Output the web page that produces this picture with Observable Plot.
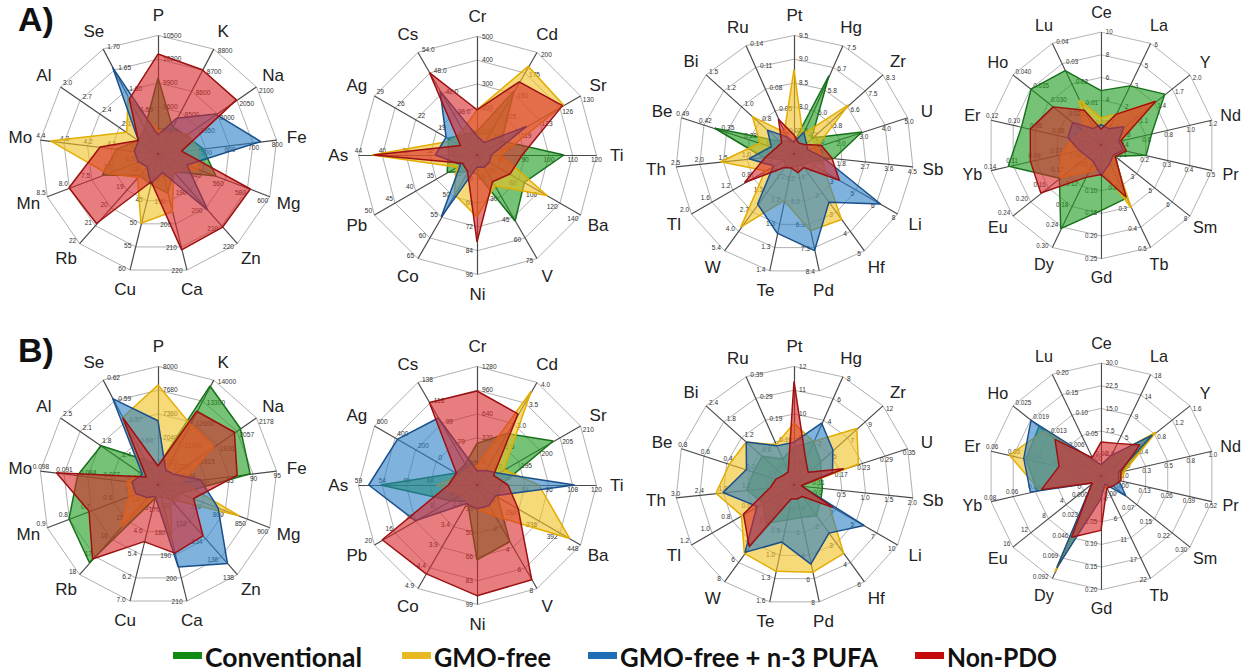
<!DOCTYPE html>
<html><head><meta charset="utf-8">
<script src="https://cdn.jsdelivr.net/npm/d3@7"></script>
<script src="https://cdn.jsdelivr.net/npm/@observablehq/plot@0.6"></script>
<style>
html,body{margin:0;padding:0;background:#fff}
body{width:1258px;height:672px;position:relative;overflow:hidden;font-family:"Liberation Sans",Arial,sans-serif}
.chart{position:absolute}
.chart svg{overflow:visible}
.panel{position:absolute;font:bold 34px "Liberation Sans",Arial,sans-serif;color:#111;line-height:39px}
.sw{position:absolute;top:652px;width:29px;height:7px;box-sizing:border-box}
.lt{position:absolute;top:642px;font:700 26px Lato,"Liberation Sans",sans-serif;color:#111;white-space:nowrap;line-height:30px;transform-origin:0 50%}
</style></head><body>
<div class="panel" style="left:18px;top:0px">A)</div>
<div class="panel" style="left:18px;top:331px">B)</div>
<div id="charts"></div>
<div id="legend"></div>
<script>
// ---- series ----
const seriesNames = ["Conventional", "GMO-free", "GMO-free + n-3 PUFA", "Non-PDO"];
const seriesFill = ["#1a9a1a", "#f0c020", "#2a7fc4", "#d8262a"];
const seriesStroke = ["#16701a", "#e3ad00", "#1a4f8a", "#9c1010"];
const swatchColor = ["#128a12", "#e8b923", "#1f6eb5", "#c40c0c"];

// values are radial levels: 0 = centre, 5 = outer ring
// ---------- A1 ----------
const a1Axes = ["P","K","Na","Fe","Mg","Zn","Ca","Cu","Rb","Mn","Mo","Al","Se"];
const a1Ticks = [["9300","9600","9900","10200","10500"],["8400","8500","8600","8700","8800"],["1900","1950","2000","2050","2100"],["400","500","600","700","800"],["520","540","560","580","600"],["180","190","200","210","220"],["180","190","200","210","220"],["40","45","50","55","60"],["18","19","20","21","22"],["6.5","7.0","7.5","8.0","8.5"],["4.0","4.1","4.2","4.3","4.4"],["1.8","2.1","2.4","2.7","3.0"],["1.50","1.55","1.60","1.65","1.70"]];
const a1Conventional = [3.2,1.3,1.4,1.9,2.6,1.0,1.7,1.3,1.2,2.5,1.75,1.0,1.2];
const a1GmoFree      = [1.0,1.0,1.5,1.7,1.8,1.0,2.5,3.0,1.3,2.3,4.55,1.6,2.7];
const a1Pufa         = [0.8,1.7,2.95,4.35,1.3,3.15,0.8,1.3,0.7,0.9,1.0,1.0,4.1];
const a1NonPdo       = [4.2,4.0,4.0,1.0,4.15,4.1,4.15,1.2,3.9,4.0,2.45,1.0,2.6];

// ---------- A2 ----------
const a2Axes = ["Cr","Cd","Sr","Ti","Ba","V","Ni","Co","Pb","As","Ag","Cs"];
const a2Ticks = [["100","200","300","400","500"],["100","125","150","175","200"],["116","119","123","126","130"],["80","90","100","110","120"],["60","80","100","120","140"],["15","30","45","60","75"],["48","60","72","84","96"],["45","50","55","60","65"],["30","35","40","45","50"],["28","32","36","40","44"],["16","19","22","26","29"],["30.0","36.0","42.0","48.0","54.0"]];
const a2Conventional = [1.0,3.1,1.2,3.65,2.3,3.2,0.8,0.8,1.45,1.2,1.4,1.0];
const a2GmoFree      = [1.9,4.3,4.2,1.0,3.4,1.5,2.6,1.9,1.0,4.4,1.2,1.2];
const a2Pufa         = [0.8,0.6,2.4,0.6,0.6,0.6,0.5,3.0,0.8,1.75,1.5,3.1];
const a2NonPdo       = [1.9,3.55,4.15,1.9,1.6,1.3,3.65,0.8,0.7,4.35,0.8,4.0];

// ---------- A3 ----------
const a3Axes = ["Pt","Hg","Zr","U","Sb","Li","Hf","Pd","Te","W","Tl","Th","Be","Bi","Ru"];
const a3Ticks = [["7.5","8.0","8.5","9.0","9.5"],["4.2","5.0","5.8","6.7","7.5"],["5.0","5.8","6.6","7.5","8.3"],["1.0","2.0","3.0","4.0","5.0"],["0.9","1.8","2.7","3.6","4.5"],["2","3","5","6","8"],["1","2","3","4","5"],["4.2","5.2","6.3","7.3","8.4"],["1.2","1.2","1.3","1.3","1.4"],["0.0","1.3","2.7","4.0","5.4"],["0.4","0.8","1.2","1.6","2.0"],["0.5","1.0","1.5","2.0","2.5"],["0.21","0.28","0.35","0.42","0.49"],["0.5","0.8","1.0","1.2","1.5"],["0.02","0.05","0.08","0.11","0.14"]];
const a3Conventional = [0.5,3.6,1.0,3.0,1.7,0.7,0.6,0.5,0.6,0.6,0.5,1.3,3.5,0.8,0.6];
const a3GmoFree      = [3.55,0.9,3.1,1.0,1.2,1.5,3.4,3.3,2.0,3.8,1.4,3.1,1.5,2.35,1.0];
const a3Pufa         = [0.5,1.0,0.7,0.6,1.2,4.2,2.5,4.15,3.4,2.6,1.0,1.9,1.0,1.5,0.8];
const a3NonPdo       = [0.8,0.5,0.6,1.2,1.6,2.2,0.7,0.8,0.6,0.7,2.4,1.2,0.8,0.7,1.6];

// ---------- A4 ----------
const a4Axes = ["Ce","La","Y","Nd","Pr","Sm","Tb","Gd","Dy","Eu","Yb","Er","Ho","Lu"];
const a4Ticks = [["2","4","6","8","10"],["1","2","3","5","6"],["0.8","1.1","1.4","1.7","2.0"],["0.4","0.6","0.8","1.0","1.2"],["0.1","0.2","0.3","0.4","0.5"],["2","3","5","6","8"],["0.1","0.2","0.3","0.4","0.5"],["0.05","0.10","0.15","0.20","0.25"],["0.06","0.12","0.18","0.24","0.30"],["0.08","0.12","0.16","0.20","0.24"],["0.05","0.07","0.09","0.11","0.14"],["0.04","0.06","0.08","0.10","0.12"],["0.020","0.025","0.030","0.035","0.040"],["0.00","0.01","0.02","0.03","0.04"]];
const a4Conventional = [2.4,2.9,3.6,2.3,2.05,0.8,2.6,2.9,4.1,2.35,4.2,3.6,3.95,3.65];
const a4GmoFree      = [1.2,1.5,3.1,0.8,1.0,0.7,3.1,1.0,1.3,2.3,1.8,1.3,1.0,2.2];
const a4Pufa         = [0.9,0.8,1.3,0.8,1.0,0.7,0.9,1.35,0.8,0.8,1.0,1.5,1.6,0.8];
const a4NonPdo       = [0.7,1.5,3.1,0.9,1.15,0.8,2.55,1.3,1.6,3.4,3.2,3.2,2.7,1.7];

// ---------- B1 ----------
const b1Axes = a1Axes;
const b1Ticks = [["6720","7040","7360","7680","8000"],["11200","11900","12600","13300","14000"],["1694","1815","1936","2057","2178"],["75","80","85","90","95"],["700","750","800","850","900"],["130","132","134","136","138"],["170","180","190","200","210"],["3.8","4.6","5.4","6.2","7.0"],["14","15","16","17","18"],["0.5","0.6","0.7","0.8","0.9"],["0.070","0.077","0.084","0.091","0.098"],["1.1","1.4","1.8","2.1","2.5"],["0.52","0.54","0.57","0.59","0.62"]];
const b1Conventional = [0.8,4.7,4.2,3.9,1.0,0.8,0.5,0.6,4.35,4.0,3.4,2.9,1.2];
const b1GmoFree      = [4.2,2.9,2.85,1.0,3.65,0.8,2.4,0.5,2.35,1.3,1.3,0.8,3.2];
const b1Pufa         = [2.7,0.7,0.8,1.8,2.7,4.4,3.55,0.5,0.7,1.0,1.1,0.8,4.1];
const b1NonPdo       = [0.8,3.5,3.9,3.35,1.6,2.85,2.95,2.45,4.15,3.1,4.3,0.6,3.2];

// ---------- B2 ----------
const b2Axes = a2Axes;
const b2Ticks = [["0","320","640","960","1280"],["2.0","2.5","3.0","3.5","4.0"],["190","195","200","205","210"],["72","84","96","108","120"],["224","280","336","392","448"],["0","2","4","6","8"],["33","50","66","83","99"],["2.9","3.4","3.9","4.4","4.9"],["4","8","12","16","20"],["39","44","49","54","59"],["-200","0","200","400","600"],["59","79","99","118","138"]];
const b2Conventional = [1.75,2.5,3.7,1.0,1.0,2.75,3.15,0.8,1.3,4.05,1.0,1.0];
const b2GmoFree      = [0.8,4.55,1.3,2.6,4.5,1.5,1.0,0.8,0.8,1.7,0.8,0.8];
const b2Pufa         = [0.6,0.7,1.0,4.1,0.9,1.0,1.0,0.9,3.0,4.55,3.85,3.25];
const b2NonPdo       = [3.95,3.45,0.8,1.3,2.0,4.6,4.65,4.3,4.6,1.2,1.0,4.0];

// ---------- B3 ----------
const b3Axes = a3Axes;
const b3Ticks = [["8","9","10","11","12"],["0","2","4","6","8"],["2","5","7","9","12"],["0.11","0.17","0.23","0.29","0.35"],["0.0","0.5","1.0","1.5","2.0"],["0","2","5","7","10"],["0","2","3","4","6"],["0","2","4","6","8"],["0.5","0.8","1.0","1.3","1.6"],["0","2","4","6","8"],["0.4","0.6","0.8","1.0","1.2"],["0.6","1.2","1.8","2.4","3.0"],["0.0","0.2","0.4","0.6","0.8"],["0.0","0.6","1.2","1.8","2.4"],["0.00","0.10","0.19","0.29","0.39"]];
const b3Conventional = [1.6,2.0,1.5,1.2,1.2,1.3,1.6,1.4,1.5,2.0,1.5,2.0,1.8,1.8,1.2];
const b3GmoFree      = [2.6,2.0,3.55,2.85,0.3,1.7,3.55,3.75,3.7,3.55,2.55,3.3,2.85,2.7,1.85];
const b3Pufa         = [1.8,2.85,2.2,1.7,0.3,3.4,2.5,3.4,2.45,3.5,1.8,3.0,2.1,2.7,1.8];
const b3NonPdo       = [4.35,1.2,0.8,2.2,0.3,1.9,0.6,0.6,0.6,3.2,2.45,1.0,0.8,0.6,0.6];

// ---------- B4 ----------
const b4Axes = a4Axes;
const b4Ticks = [["0.0","7.5","15.0","22.5","30.0"],["0","5","9","14","18"],["0.0","0.4","0.8","1.2","1.6"],["0.0","0.3","0.5","0.8","1.0"],["0.00","0.13","0.26","0.39","0.52"],["0.00","0.07","0.15","0.22","0.30"],["0","6","11","17","22"],["0.00","0.05","0.10","0.15","0.20"],["0.000","0.023","0.046","0.069","0.092"],["0","4","8","12","16"],["0.00","0.02","0.04","0.06","0.08"],["0.02","0.03","0.04","0.05","0.06"],["0.000","0.006","0.013","0.019","0.025"],["0.00","0.05","0.10","0.15","0.20"]];
const b4Conventional = [0.4,0.9,3.0,1.0,0.8,0.6,0.5,0.8,4.4,0.4,2.9,3.4,3.5,0.7];
const b4GmoFree      = [0.4,0.9,3.1,1.1,0.9,0.7,0.5,0.8,4.7,0.4,2.8,4.15,3.2,0.8];
const b4Pufa         = [0.5,1.0,2.9,0.8,0.8,1.4,0.4,1.0,4.5,0.5,3.2,3.5,3.95,0.8];
const b4NonPdo       = [1.5,1.6,2.2,0.9,0.9,0.7,0.6,2.4,3.0,0.5,2.7,1.9,2.6,0.9];

// ---- layout ----
const RPX = 119;      // pixel radius of outer ring
const HALF = 165;     // half size of each svg
const LABR = 5.85;    // label radius in ring units
const charts = [
  {cx:158,  cy:154, axes:a1Axes, ticks:a1Ticks, values:[a1Conventional,a1GmoFree,a1Pufa,a1NonPdo]},
  {cx:477,  cy:155, axes:a2Axes, ticks:a2Ticks, values:[a2Conventional,a2GmoFree,a2Pufa,a2NonPdo]},
  {cx:794,  cy:154, axes:a3Axes, ticks:a3Ticks, values:[a3Conventional,a3GmoFree,a3Pufa,a3NonPdo]},
  {cx:1109, cy:153, axes:a4Axes, ticks:a4Ticks, values:[a4Conventional,a4GmoFree,a4Pufa,a4NonPdo]},
  {cx:158,  cy:485, axes:b1Axes, ticks:b1Ticks, values:[b1Conventional,b1GmoFree,b1Pufa,b1NonPdo]},
  {cx:477,  cy:485, axes:b2Axes, ticks:b2Ticks, values:[b2Conventional,b2GmoFree,b2Pufa,b2NonPdo]},
  {cx:794,  cy:485, axes:b3Axes, ticks:b3Ticks, values:[b3Conventional,b3GmoFree,b3Pufa,b3NonPdo]},
  {cx:1109, cy:484, axes:b4Axes, ticks:b4Ticks, values:[b4Conventional,b4GmoFree,b4Pufa,b4NonPdo]}
];

function radar(cfg) {
  const n = cfg.axes.length;
  const u = 5 / RPX;
  const half = HALF * u;
  const th = i => 2 * Math.PI * i / n;
  const X = (i, r) => r * Math.sin(th(i));
  const Y = (i, r) => r * Math.cos(th(i));
  const ringPts = [];
  for (let k = 1; k <= 5; k++) cfg.axes.forEach((a, i) => ringPts.push({k, x: X(i, k), y: Y(i, k)}));
  const spokes = cfg.axes.map((a, i) => ({x: X(i, 5), y: Y(i, 5)}));
  const tickPts = [];
  cfg.axes.forEach((a, i) => cfg.ticks[i].forEach((t, j) => {
    const k = j + 1, t0 = th(i), off = 4.5 * u;
    tickPts.push({text: t, c: Math.cos(t0), x: X(i, k) + off * Math.cos(t0), y: Y(i, k) - off * Math.sin(t0)});
  }));
  const labels = cfg.axes.map((a, i) => ({text: a, x: X(i, LABR), y: Y(i, LABR)}));
  const tickOpts = {x: "x", y: "y", text: "text", fontSize: 6.6, fill: "#333"};
  const marks = [
    Plot.line(ringPts, {x: "x", y: "y", z: "k", curve: "linear-closed", stroke: "#b0b0b0", strokeWidth: 1}),
    Plot.link(spokes, {x1: 0, y1: 0, x2: "x", y2: "y", stroke: "#4a4a4a", strokeWidth: 1.2}),
    Plot.text(tickPts.filter(d => d.c > 0.35), {...tickOpts, textAnchor: "start"}),
    Plot.text(tickPts.filter(d => d.c < -0.35), {...tickOpts, textAnchor: "end"}),
    Plot.text(tickPts.filter(d => Math.abs(d.c) <= 0.35), {...tickOpts, textAnchor: "middle"})
  ];
  cfg.values.forEach((vals, si) => {
    const pts = vals.map((v, i) => ({x: X(i, v), y: Y(i, v)}));
    marks.push(Plot.area(pts, {x1: "x", y1: "y", x2: 0, y2: 0, curve: "linear-closed",
      fill: seriesFill[si], fillOpacity: 0.6, stroke: seriesStroke[si], strokeWidth: 1.5, strokeLinejoin: "miter"}));
  });
  marks.push(Plot.text(labels, {x: "x", y: "y", text: "text", fontSize: 17, fill: "#222", textAnchor: "middle"}));
  return Plot.plot({
    width: 2 * HALF, height: 2 * HALF, margin: 0,
    x: {domain: [-half, half], axis: null},
    y: {domain: [-half, half], axis: null},
    style: {background: "transparent", fontFamily: "'Liberation Sans', Arial, sans-serif", overflow: "visible"},
    marks
  });
}

const holder = document.getElementById("charts");
charts.forEach(cfg => {
  const div = document.createElement("div");
  div.className = "chart";
  div.style.left = (cfg.cx - HALF) + "px";
  div.style.top = (cfg.cy - HALF) + "px";
  div.appendChild(radar(cfg));
  holder.appendChild(div);
});

// legend layout (px)
const legSwatchLeft = [173, 402, 588, 915];
const legTextWidth = [157, 117, 258, 110];
const legend = document.getElementById("legend");
seriesNames.forEach((name, i) => {
  const sw = document.createElement("div");
  sw.className = "sw";
  sw.style.left = legSwatchLeft[i] + "px";
  sw.style.background = swatchColor[i];
  legend.appendChild(sw);
  const t = document.createElement("div");
  t.className = "lt";
  t.style.left = (legSwatchLeft[i] + 32) + "px";
  t.textContent = name;
  legend.appendChild(t);
  const w = t.getBoundingClientRect().width;
  if (w > 0) t.style.transform = `scaleX(${legTextWidth[i] / w})`;
});
</script>
</body></html>
